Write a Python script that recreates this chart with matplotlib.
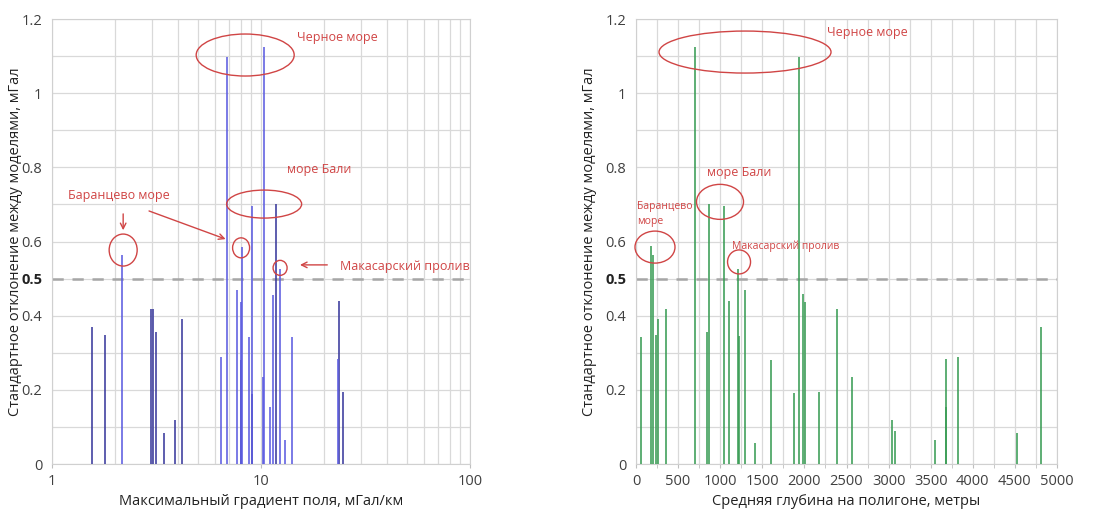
import matplotlib
matplotlib.use("Agg")
import matplotlib.pyplot as plt
from matplotlib.patches import Ellipse
from matplotlib.ticker import FixedLocator, NullFormatter, MultipleLocator

plt.rcParams['font.family'] = ['Open Sans', 'DejaVu Sans']

# Левый график: максимальный градиент поля (мГал/км) и СКО (мГал)
grad_dark_x = [1.56, 1.79, 2.97, 3.03, 3.14, 3.43, 3.87, 4.17, 8.0, 9.1, 11.8, 23.5, 24.7]
grad_dark_y = [0.369, 0.347, 0.417, 0.417, 0.357, 0.084, 0.12, 0.392, 0.28, 0.19, 0.701, 0.44, 0.195]
grad_light_x = [2.17, 6.47, 6.89, 7.71, 8.0, 8.1, 8.77, 9.06, 10.27, 10.38, 11.09, 11.38, 12.38, 13.08, 14.08, 23.3]
grad_light_y = [0.564, 0.289, 1.098, 0.469, 0.436, 0.586, 0.343, 0.696, 0.235, 1.125, 0.155, 0.456, 0.526, 0.065, 0.343, 0.282]

# Правый график: средняя глубина (м) и СКО (мГал)
depth_x = [55, 174, 206, 238, 258, 361, 701, 848, 868, 1050, 1101, 1216, 1228, 1295, 1410,
           1608, 1874, 1937, 1989, 2005, 2179, 2393, 2567, 3043, 3078, 3554, 3676, 3685,
           3823, 4524, 4813]
depth_y = [0.343, 0.588, 0.563, 0.347, 0.391, 0.417, 1.125, 0.357, 0.701, 0.697, 0.44,
           0.526, 0.345, 0.469, 0.056, 0.28, 0.192, 1.097, 0.458, 0.436, 0.195, 0.417,
           0.235, 0.12, 0.089, 0.065, 0.155, 0.282, 0.289, 0.084, 0.369]

threshold = 0.5
ylabel = "Стандартное отклонение между моделями, мГал"
red = "#d04545"

fig = plt.figure(figsize=(11.02, 5.15), dpi=100)
ax1 = fig.add_axes([0.0472, 0.099, 0.3793, 0.864])
ax2 = fig.add_axes([0.5771, 0.099, 0.3821, 0.864])


def style_axis(ax):
    ax.set_ylim(0, 1.2)
    ax.yaxis.set_major_locator(FixedLocator([0, 0.2, 0.4, 0.5, 0.6, 0.8, 1.0, 1.2]))
    ax.set_yticklabels(["0", "0.2", "0.4", "0.5", "0.6", "0.8", "1", "1.2"])
    ax.yaxis.set_minor_locator(MultipleLocator(0.1))
    ax.grid(True, which="both", color="#d9d9d9", linewidth=0.9)
    ax.set_axisbelow(True)
    for s in ax.spines.values():
        s.set_color("#d0d0d0")
    ax.tick_params(axis="y", which="both", length=0, labelsize=10.5, colors="#404040", pad=7)
    ax.tick_params(axis="x", which="both", labelsize=10.5, colors="#404040", color="#bfbfbf")
    for lbl in ax.get_yticklabels():
        if lbl.get_text() == "0.5":
            lbl.set_fontweight("bold")
            lbl.set_color("#222222")
    ax.axhline(threshold, color="#a6a6a6", linestyle=(0, (4.5, 3.5)), linewidth=1.8, zorder=1)
    ax.set_ylabel(ylabel, fontsize=10.5, color="#222222")


def ellipse(ax, x, y, w_px, h_px):
    bb = ax.get_window_extent()
    cx, cy = ax.transAxes.inverted().transform(ax.transData.transform((x, y)))
    ax.add_patch(Ellipse((cx, cy), w_px / bb.width, h_px / bb.height, transform=ax.transAxes,
                         fill=False, edgecolor=red, linewidth=1.0, zorder=5, clip_on=False))


def arrow(ax, x0, y0, x1, y1):
    ax.annotate("", xy=(x1, y1), xytext=(x0, y0),
                arrowprops=dict(arrowstyle="->", color=red, lw=1.0), zorder=5)


# --- левый график ---
ax1.set_xscale("log")
ax1.set_xlim(1, 100)
ax1.vlines(grad_dark_x, 0, grad_dark_y, color="#3a3a9c", linewidth=1.15, zorder=3)
ax1.vlines(grad_light_x, 0, grad_light_y, color="#5c5ce0", linewidth=1.15, zorder=3)
ax1.xaxis.set_major_locator(FixedLocator([1, 10, 100]))
ax1.set_xticklabels(["1", "10", "100"])
ax1.xaxis.set_minor_locator(FixedLocator([2, 3, 4, 5, 6, 7, 8, 9, 20, 30, 40, 50, 60, 70, 80, 90]))
ax1.xaxis.set_minor_formatter(NullFormatter())
ax1.tick_params(axis="x", which="minor", length=0)
ax1.tick_params(axis="x", which="major", length=3, pad=4)
style_axis(ax1)
ax1.yaxis.set_label_coords(-0.07, 0.5)
ax1.set_xlabel("Максимальный градиент поля, мГал/км", fontsize=10.5, color="#222222")

ellipse(ax1, 8.4, 1.103, 98, 42)
ellipse(ax1, 10.35, 0.701, 75, 28)
ellipse(ax1, 2.19, 0.577, 28, 32)
ellipse(ax1, 8.03, 0.583, 17, 20)
ellipse(ax1, 12.34, 0.529, 14, 15)
ax1.text(14.9, 1.15, "Черное море", color=red, fontsize=9, va="center")
ax1.text(13.3, 0.793, "море Бали", color=red, fontsize=9, va="center")
ax1.text(1.197, 0.725, "Баранцево море", color=red, fontsize=9, va="center")
ax1.text(23.9, 0.534, "Макасарский пролив", color=red, fontsize=9, va="center")
arrow(ax1, 2.19, 0.682, 2.19, 0.623)
arrow(ax1, 2.83, 0.685, 6.97, 0.604)
arrow(ax1, 21.4, 0.537, 14.9, 0.537)

# --- правый график ---
ax2.set_xlim(0, 5000)
ax2.vlines(depth_x, 0, depth_y, color="#3a9c55", linewidth=1.15, zorder=3)
ax2.xaxis.set_major_locator(MultipleLocator(500))
ax2.xaxis.set_minor_locator(MultipleLocator(250))
ax2.tick_params(axis="x", which="both", length=3, pad=4)
style_axis(ax2)
ax2.yaxis.set_label_coords(-0.093, 0.5)
ax2.set_xlabel("Средняя глубина на полигоне, метры", fontsize=10.5, color="#222222")

ellipse(ax2, 1295, 1.111, 172, 42)
ellipse(ax2, 998, 0.707, 47, 35)
ellipse(ax2, 226, 0.585, 40, 32)
ellipse(ax2, 1224, 0.545, 23, 24)
ax2.text(2270, 1.165, "Черное море", color=red, fontsize=9, va="center")
ax2.text(844, 0.785, "море Бали", color=red, fontsize=9, va="center")
ax2.text(10, 0.674, "Баранцево\nморе", color=red, fontsize=7.5, va="center", linespacing=1.5)
ax2.text(1141, 0.588, "Макасарский пролив", color=red, fontsize=7.5, va="center")

fig.savefig("out.png", dpi=100)
